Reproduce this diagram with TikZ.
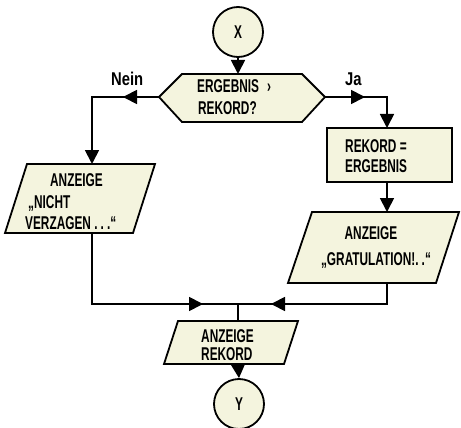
\documentclass[tikz,border=0pt]{standalone}
\usepackage{fontspec}
\setmainfont{Liberation Sans}[FakeStretch=0.64]
\newfontfamily\labfont{Liberation Sans}[FakeStretch=0.8]
\usetikzlibrary{arrows.meta}
\definecolor{cream}{RGB}{244,244,222}
\begin{document}
\begin{tikzpicture}[x=1pt,y=-1pt,
  ln/.style={line width=1.8pt},
  shp/.style={draw, line width=1.8pt, fill=cream, line join=miter},
  tip/.style={-{Triangle[length=14pt,width=14pt]}},
  txt/.style={font=\bfseries\fontsize{18.5}{20}\selectfont, inner sep=0pt, anchor=base west},
  lab/.style={font=\labfont\bfseries\fontsize{18.5}{20}\selectfont, inner sep=0pt, anchor=base west},
  term/.style={shp, circle, minimum size=50pt, inner sep=0pt, font=\bfseries\fontsize{18.5}{20}\selectfont},
]
\useasboundingbox (0,0) rectangle (461,428);

% start connector
\node[term] (X) at (238,32) {X};

% decision hexagon
\coordinate (hw) at (159,97);
\coordinate (hnw) at (182,74);
\coordinate (hne) at (302,74);
\coordinate (he) at (325,97);
\coordinate (hse) at (302,122);
\coordinate (hsw) at (182,122);
\coordinate (hn) at (238,74);
\draw[shp] (hw) -- (hnw) -- (hne) -- (he) -- (hse) -- (hsw) -- cycle;
\node[txt] (h1) at (197,93) {ERGEBNIS\hspace{8pt}›};
\node[txt] (h2) at (198,114) {REKORD?};
\draw[ln,tip] (X.south) -- (hn);

\node[lab] (nein) at (111,86) {Nein};
\node[lab] (ja) at (345,86) {Ja};

% left branch
\coordinate (lc) at (92,97);
\coordinate (lpn) at (92,164);
\coordinate (na) at (123,97);
\draw[ln,tip] (hw) -- (lc) -- (lpn);
\draw[ln,tip] (hw) -- (na);

% right branch
\coordinate (rc) at (387,97);
\coordinate (bn) at (387,128);
\coordinate (jaa) at (365,97);
\draw[ln,tip] (he) -- (rc) -- (bn);
\draw[ln,tip] (he) -- (jaa);

% process box
\draw[shp] (327,128) rectangle (452,182);
\coordinate (bs) at (387,182);
\node[txt] (b1) at (345,152) {REKORD =};
\node[txt] (b2) at (345,172) {ERGEBNIS};

% right output parallelogram
\coordinate (rpn) at (387,212);
\coordinate (rps) at (387,283);
\draw[shp] (312,212) -- (459,212) -- (436,283) -- (288,283) -- cycle;
\node[txt,anchor=base] (r1) at (371,239) {ANZEIGE};
\node[txt,anchor=base] (r2) at (376,265) {„GRATULATION!.\,.“};
\draw[ln,tip] (bs) -- (rpn);

% left output parallelogram
\coordinate (lps) at (92,233);
\draw[shp] (27,164) -- (155,164) -- (133,233) -- (5,233) -- cycle;
\node[txt] (l1) at (50,186) {ANZEIGE};
\node[txt] (l2) at (28,208) {„NICHT};
\node[txt] (l3) at (25,229) {VERZAGEN .\,.\,.“};

% merge
\coordinate (lm) at (92,304);
\coordinate (rm) at (387,304);
\coordinate (j) at (238,304);
\coordinate (la) at (203,304);
\coordinate (ra) at (271,304);
\draw[ln] (lps) -- (lm) -- (j);
\draw[ln] (rps) -- (rm) -- (j);
\draw[ln,tip] (lm) -- (la);
\draw[ln,tip] (rm) -- (ra);

% bottom output parallelogram
\coordinate (bpn) at (238,321);
\coordinate (bps) at (238,364);
\draw[ln] (j) -- (bpn);
\draw[shp] (178,321) -- (298,321) -- (284,364) -- (164,364) -- cycle;
\node[txt] (k1) at (201,342) {ANZEIGE};
\node[txt] (k2) at (201,360) {REKORD};

% end connector
\node[term] (Y) at (239,404) {Y};
\draw[ln,tip] (bps) -- (Y.north);
\end{tikzpicture}
\end{document}
